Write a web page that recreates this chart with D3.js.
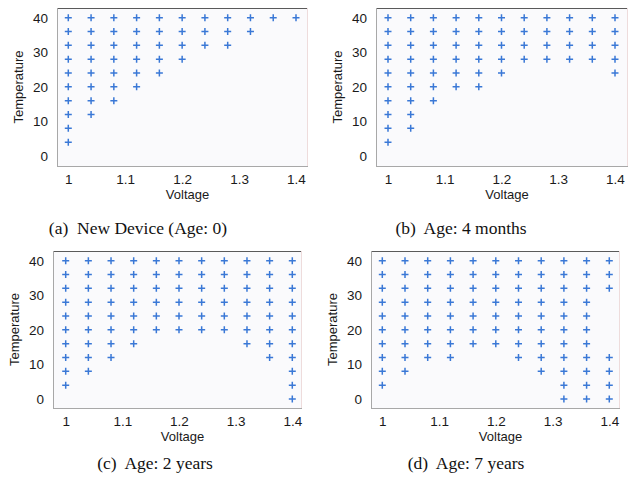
<!DOCTYPE html>
<html>
<head>
<meta charset="utf-8">
<script src="https://cdn.jsdelivr.net/npm/d3@7"></script>
<style>
  html, body { margin: 0; padding: 0; background: #ffffff; }
  svg { display: block; }
</style>
</head>
<body>
<svg id="chart" width="629" height="480"></svg>
<script>
// ---- data ----
const voltages = [1.00, 1.04, 1.08, 1.12, 1.16, 1.20, 1.24, 1.28, 1.32, 1.36, 1.40];
const xTickValues = [1, 1.1, 1.2, 1.3, 1.4];
const xTickLabels = ["1", "1.1", "1.2", "1.3", "1.4"];
const yTickValues = [0, 10, 20, 30, 40];
const yTickLabels = ["0", "10", "20", "30", "40"];
const captions = ["(a)  New Device (Age: 0)", "(b)  Age: 4 months", "(c)  Age: 2 years", "(d)  Age: 7 years"];

// temperatures at which the device works, listed per voltage column
const tempsNew = [
  [4, 8, 12, 16, 20, 24, 28, 32, 36, 40],
  [12, 16, 20, 24, 28, 32, 36, 40],
  [16, 20, 24, 28, 32, 36, 40],
  [20, 24, 28, 32, 36, 40],
  [24, 28, 32, 36, 40],
  [28, 32, 36, 40],
  [32, 36, 40],
  [32, 36, 40],
  [36, 40],
  [40],
  [40]
];
const temps4Months = [
  [4, 8, 12, 16, 20, 24, 28, 32, 36, 40],
  [8, 12, 16, 20, 24, 28, 32, 36, 40],
  [16, 20, 24, 28, 32, 36, 40],
  [20, 24, 28, 32, 36, 40],
  [20, 24, 28, 32, 36, 40],
  [24, 28, 32, 36, 40],
  [28, 32, 36, 40],
  [28, 32, 36, 40],
  [28, 32, 36, 40],
  [28, 32, 36, 40],
  [24, 28, 32, 36, 40]
];
const temps2Years = [
  [4, 8, 12, 16, 20, 24, 28, 32, 36, 40],
  [8, 12, 16, 20, 24, 28, 32, 36, 40],
  [12, 16, 20, 24, 28, 32, 36, 40],
  [16, 20, 24, 28, 32, 36, 40],
  [20, 24, 28, 32, 36, 40],
  [20, 24, 28, 32, 36, 40],
  [20, 24, 28, 32, 36, 40],
  [20, 24, 28, 32, 36, 40],
  [16, 20, 24, 28, 32, 36, 40],
  [12, 16, 20, 24, 28, 32, 36, 40],
  [0, 4, 8, 12, 16, 20, 24, 28, 32, 36, 40]
];
const temps7Years = [
  [4, 8, 12, 16, 20, 24, 28, 32, 36, 40],
  [8, 12, 16, 20, 24, 28, 32, 36, 40],
  [12, 16, 20, 24, 28, 32, 36, 40],
  [12, 16, 20, 24, 28, 32, 36, 40],
  [16, 20, 24, 28, 32, 36, 40],
  [16, 20, 24, 28, 32, 36, 40],
  [12, 16, 20, 24, 28, 32, 36, 40],
  [8, 12, 16, 20, 24, 28, 32, 36, 40],
  [0, 4, 8, 12, 16, 20, 24, 28, 32, 36, 40],
  [0, 4, 8, 12, 16, 20, 24, 28, 32, 36, 40],
  [0, 4, 8, 12, 32, 36, 40]
];
const panelData = [tempsNew, temps4Months, temps2Years, temps7Years];

// ---- layout (pixels) ----
const layouts = [
  { L: 57,  T: 8,   R: 308, B: 166, x0: 68.3,  x1: 296,   y0: 156, y40: 17.7,  capX: 138, capY: 234 },
  { L: 376, T: 8,   R: 628, B: 166, x0: 388,   x1: 615,   y0: 156, y40: 17.7,  capX: 461, capY: 234 },
  { L: 53,  T: 251, R: 302, B: 408, x0: 65.7,  x1: 292.3, y0: 399, y40: 260.7, capX: 155, capY: 469 },
  { L: 371, T: 251, R: 620, B: 408, x0: 382.3, x1: 609.3, y0: 399, y40: 260.7, capX: 466, capY: 469 }
];

const svg = d3.select("#chart");
const markColor = "#3a78d6";
const axisFont = "'Liberation Sans', Arial, Helvetica, sans-serif";
const axisSize = 13.5;

layouts.forEach((lay, i) => {
  const g = svg.append("g");
  const x = d3.scaleLinear().domain([1, 1.4]).range([lay.x0, lay.x1]);
  const y = d3.scaleLinear().domain([0, 40]).range([lay.y0, lay.y40]);

  // plot background
  g.append("rect")
    .attr("x", lay.L).attr("y", lay.T)
    .attr("width", lay.R - lay.L).attr("height", lay.B - lay.T)
    .attr("fill", "#fafafc");
  // frame edges
  g.append("line").attr("x1", lay.L).attr("x2", lay.R).attr("y1", lay.T + 0.5).attr("y2", lay.T + 0.5)
    .attr("stroke", "#5a5a5a").attr("stroke-width", 1.2);
  g.append("line").attr("x1", lay.L + 0.5).attr("x2", lay.L + 0.5).attr("y1", lay.T).attr("y2", lay.B)
    .attr("stroke", "#a8a8a8").attr("stroke-width", 1);
  g.append("line").attr("x1", lay.L).attr("x2", lay.R).attr("y1", lay.B + 0.5).attr("y2", lay.B + 0.5)
    .attr("stroke", "#a8a8a8").attr("stroke-width", 1);
  g.append("line").attr("x1", lay.R - 0.5).attr("x2", lay.R - 0.5).attr("y1", lay.T).attr("y2", lay.B)
    .attr("stroke", "#eedcdc").attr("stroke-width", 1);

  // x axis tick labels (no tick lines)
  const xAxis = d3.axisBottom(x).tickValues(xTickValues)
    .tickFormat((d, k) => xTickLabels[k]).tickSize(0).tickPadding(0);
  const xg = g.append("g").attr("transform", `translate(0,${lay.B + 8})`).call(xAxis);
  xg.select(".domain").remove();
  xg.selectAll("text").attr("font-family", axisFont).attr("font-size", axisSize)
    .attr("fill", "#1a1a1a").attr("dy", "0.71em");

  // y axis tick labels
  const yAxis = d3.axisLeft(y).tickValues(yTickValues)
    .tickFormat((d, k) => yTickLabels[k]).tickSize(0).tickPadding(0);
  const yg = g.append("g").attr("transform", `translate(${lay.L - 9},0)`).call(yAxis);
  yg.select(".domain").remove();
  yg.selectAll("text").attr("font-family", axisFont).attr("font-size", axisSize)
    .attr("fill", "#1a1a1a");

  // axis titles
  g.append("text")
    .attr("x", (lay.L + lay.R) / 2 + 5).attr("y", lay.B + 33)
    .attr("text-anchor", "middle").attr("font-family", axisFont).attr("font-size", 13)
    .attr("fill", "#1a1a1a").text("Voltage");
  g.append("text")
    .attr("transform", `translate(${lay.L - 34},${(lay.T + lay.B) / 2}) rotate(-90)`)
    .attr("text-anchor", "middle").attr("font-family", axisFont).attr("font-size", 13)
    .attr("fill", "#1a1a1a").text("Temperature");

  // points as "+" markers
  const pts = [];
  panelData[i].forEach((col, k) => col.forEach(t => pts.push({ v: voltages[k], t })));
  const plus = "M-3.5,0H3.5M0,-3.5V3.5";
  g.append("g").selectAll("path").data(pts).join("path")
    .attr("transform", d => `translate(${x(d.v)},${y(d.t)})`)
    .attr("d", plus)
    .attr("stroke", markColor).attr("stroke-width", 1.5).attr("fill", "none");

  // caption
  g.append("text")
    .attr("x", lay.capX).attr("y", lay.capY)
    .attr("text-anchor", "middle")
    .attr("font-family", "'Liberation Serif', 'Times New Roman', serif")
    .attr("font-size", 17.5).attr("fill", "#111")
    .style("white-space", "pre")
    .text(captions[i]);
});
</script>
</body>
</html>
